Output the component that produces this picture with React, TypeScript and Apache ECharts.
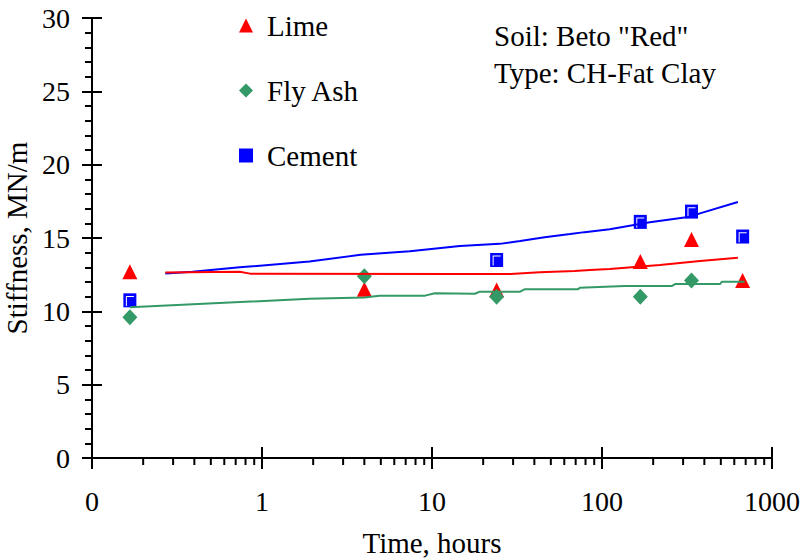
import React, { useEffect, useRef } from 'react';
import * as echarts from 'echarts';

const FONT = 'Liberation Serif';

// Measured points (time in hours, stiffness in MN/m)
const limeTimes = [0.167, 4, 24, 168, 336, 672];
const limeValues = [12.7, 11.5, 11.45, 13.4, 14.9, 12.1];

const flyAshTimes = [0.167, 4, 24, 168, 336];
const flyAshValues = [9.6, 12.4, 11.0, 11.0, 12.1];

const cementTimes = [0.167, 24, 168, 336, 672];
const cementValues = [10.75, 13.5, 16.1, 16.8, 15.1];

// Fitted trend lines
const cementFitT = [0.27, 0.39, 0.74, 1.9, 3.8, 7.4, 14.6, 25, 33, 46, 65, 79, 111, 191, 329, 377, 630];
const cementFitV = [12.58, 12.7, 13.0, 13.4, 13.85, 14.1, 14.45, 14.6, 14.8, 15.05, 15.27, 15.4, 15.6, 16.07, 16.45, 16.68, 17.45];

const limeFitT = [0.27, 0.74, 0.85, 14.6, 29, 43, 69, 85, 111, 219, 377, 630];
const limeFitV = [12.65, 12.7, 12.57, 12.55, 12.55, 12.66, 12.75, 12.82, 12.89, 13.16, 13.43, 13.66];

const flyFitT = [0.167, 1.9, 4.0, 4.9, 9.1, 10.4, 17.9, 19.1, 33, 35, 72, 74, 136, 258, 269, 494, 508, 690];
const flyFitV = [10.27, 10.86, 10.95, 11.07, 11.07, 11.23, 11.2, 11.34, 11.34, 11.5, 11.5, 11.6, 11.73, 11.73, 11.86, 11.86, 12.02, 12.02];

// Axis ticks
const xMinorTicks = [
  0.2, 0.3, 0.4, 0.5, 0.6, 0.7, 0.8, 0.9,
  2, 3, 4, 5, 6, 7, 8, 9,
  20, 30, 40, 50, 60, 70, 80, 90,
  200, 300, 400, 500, 600, 700, 800, 900,
];
const legendNames = ['Lime', 'Fly Ash', 'Cement'];
const annotations = ['Soil: Beto "Red"', 'Type: CH-Fat Clay'];

const RED = '#ff0000';
const GREEN = '#339966';
const BLUE = '#0000ff';

const zip = (t: number[], v: number[]) => t.map((x, i) => [x, v[i]]);

export default function App() {
  const ref = useRef<HTMLDivElement>(null);
  useEffect(() => {
    document.body.style.margin = '0';
    const chart = echarts.init(ref.current!, null, { renderer: 'svg' });
    const axisLineStyle = { color: '#000', width: 2 };
    const option: any = {
      animation: false,
      backgroundColor: '#fff',
      grid: {
        left: 92,
        top: 18,
        right: 30,
        bottom: 102,
        containLabel: false,
        outerBoundsMode: 'none',
      },
      legend: {
        data: legendNames,
        orient: 'vertical',
        left: 234,
        top: 6,
        itemWidth: 14,
        itemHeight: 14,
        itemGap: 36,
        selectedMode: false,
        textStyle: { fontFamily: FONT, fontSize: 29, color: '#000', padding: [0, 0, 0, 9] },
      },
      xAxis: [
        {
          type: 'log',
          logBase: 10,
          min: 0.1,
          max: 1000,
          position: 'bottom',
          axisLine: { show: true, onZero: false, lineStyle: axisLineStyle },
          axisTick: { show: true, length: 11, lineStyle: axisLineStyle },
          axisLabel: {
            show: true,
            fontFamily: FONT,
            fontSize: 28,
            color: '#000',
            margin: 29,
            formatter: (v: number) => (v < 0.5 ? '0' : String(Math.round(v))),
          },
          splitLine: { show: false },
          minorTick: { show: false },
          name: 'Time, hours',
          nameLocation: 'middle',
          nameGap: 70,
          nameTextStyle: { fontFamily: FONT, fontSize: 29, color: '#000' },
        },
        {
          type: 'log',
          logBase: 10,
          min: 0.1,
          max: 1000,
          position: 'bottom',
          axisLine: { show: false },
          axisTick: { show: true, inside: true, length: 11, lineStyle: axisLineStyle },
          axisLabel: { show: false },
          splitLine: { show: false },
        },
      ],
      yAxis: [
        {
          type: 'value',
          min: 0,
          max: 30,
          interval: 5,
          position: 'left',
          axisLine: { show: true, onZero: false, lineStyle: axisLineStyle },
          axisTick: { show: true, length: 10, lineStyle: axisLineStyle },
          minorTick: { show: true, splitNumber: 5, length: 7, lineStyle: axisLineStyle },
          axisLabel: { show: true, fontFamily: FONT, fontSize: 28, color: '#000', margin: 22 },
          splitLine: { show: false },
          name: 'Stiffness, MN/m',
          nameLocation: 'middle',
          nameGap: 46,
          nameTextStyle: { fontFamily: FONT, fontSize: 29, color: '#000' },
        },
        {
          type: 'value',
          min: 0,
          max: 30,
          interval: 5,
          position: 'left',
          axisLine: { show: false },
          axisTick: { show: true, inside: true, length: 10, lineStyle: axisLineStyle },
          axisLabel: { show: false },
          splitLine: { show: false },
        },
      ],
      graphic: [
        {
          type: 'text',
          left: 494,
          top: 21,
          style: { text: annotations[0], fontFamily: FONT, fontSize: 29, fill: '#000' },
        },
        {
          type: 'text',
          left: 494,
          top: 58,
          style: { text: annotations[1], fontFamily: FONT, fontSize: 29, fill: '#000' },
        },
      ],
      series: [
        {
          name: 'xMinor',
          type: 'scatter',
          data: xMinorTicks.map((t) => [t, 0]),
          symbol: 'rect',
          symbolSize: [2, 7],
          symbolOffset: [0, 3.5],
          itemStyle: { color: '#000', opacity: 1 },
          clip: false,
          silent: true,
          z: 3,
        },
        {
          name: 'Cement fit',
          type: 'line',
          data: zip(cementFitT, cementFitV),
          showSymbol: false,
          symbol: 'none',
          lineStyle: { color: BLUE, width: 2 },
          itemStyle: { color: BLUE },
          silent: true,
        },
        {
          name: 'Lime fit',
          type: 'line',
          data: zip(limeFitT, limeFitV),
          showSymbol: false,
          symbol: 'none',
          lineStyle: { color: RED, width: 2 },
          itemStyle: { color: RED },
          silent: true,
        },
        {
          name: 'Fly Ash fit',
          type: 'line',
          data: zip(flyFitT, flyFitV),
          showSymbol: false,
          symbol: 'none',
          lineStyle: { color: GREEN, width: 2 },
          itemStyle: { color: GREEN },
          silent: true,
        },
        {
          name: 'Lime',
          type: 'scatter',
          data: zip(limeTimes, limeValues),
          symbol: 'triangle',
          symbolSize: [15, 15],
          itemStyle: { color: RED, opacity: 1 },
        },
        {
          name: 'Fly Ash',
          type: 'scatter',
          data: zip(flyAshTimes, flyAshValues),
          symbol: 'diamond',
          symbolSize: [15, 16],
          itemStyle: { color: GREEN, opacity: 1 },
        },
        {
          name: 'Cement',
          type: 'scatter',
          data: zip(cementTimes, cementValues),
          symbol: 'rect',
          symbolSize: [13, 14],
          itemStyle: { color: BLUE, opacity: 1 },
        },
        {
          name: 'Cement highlight',
          type: 'scatter',
          data: zip(cementTimes, cementValues),
          symbol: 'path://M0 0H8V1H1V10H0Z',
          symbolSize: [8, 10],
          symbolOffset: [0, 0.6],
          itemStyle: { color: '#fff', opacity: 1 },
          silent: true,
        },
      ],
    };
    chart.setOption(option);
    return () => chart.dispose();
  }, []);
  return <div ref={ref} style={{ width: 802, height: 560 }} />;
}
